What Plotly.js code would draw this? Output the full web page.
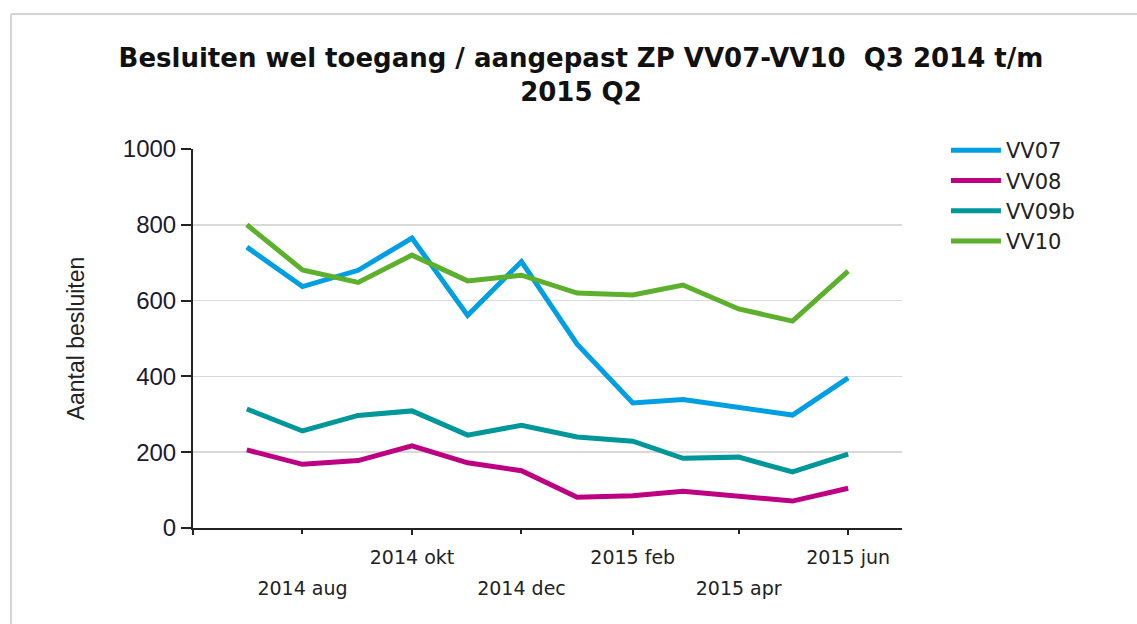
<!DOCTYPE html>
<html>
<head>
<meta charset="utf-8">
<script src="https://cdn.plot.ly/plotly-3.0.1.min.js"></script>
<style>html,body{margin:0;padding:0;background:#fff;}#chart{width:1137px;height:624px;}</style>
</head>
<body>
<div id="chart"></div>
<script>
var months = ['2014-07-01','2014-08-01','2014-09-01','2014-10-01','2014-11-01','2014-12-01',
              '2015-01-01','2015-02-01','2015-03-01','2015-04-01','2015-05-01','2015-06-01'];
var seriesNames = ['VV07','VV08','VV09b','VV10'];
var vv07  = [741, 637, 680, 765, 561, 703, 485, 330, 339, 317, 298, 396];
var vv08  = [206, 168, 178, 217, 172, 151, 81, 85, 97, 85, 71, 105];
var vv09b = [314, 256, 297, 309, 245, 271, 240, 229, 184, 187, 148, 195];
var vv10  = [800, 681, 648, 720, 652, 667, 620, 615, 641, 578, 546, 678];
var upperTickVals = ['2014-06-01','2014-10-01','2015-02-01','2015-06-01'];
var upperTickText = ['', '2014 okt', '2015 feb', '2015 jun'];
var lowerTickVals = ['2014-08-01','2014-12-01','2015-04-01'];
var lowerTickText = ['2014 aug', '2014 dec', '2015 apr'];
var yTickVals = [0, 200, 400, 600, 800, 1000];

var colors = ['#009fe3', '#be0082', '#00979b', '#5bb02c'];
var values = [vv07, vv08, vv09b, vv10];

var traces = seriesNames.map(function (n, i) {
  return {
    x: months, y: values[i], name: n, type: 'scatter', mode: 'lines',
    line: {color: colors[i], width: 5}, xaxis: 'x', yaxis: 'y'
  };
});
// invisible helper trace to activate lower-row tick axis
traces.push({x: months, y: vv07, xaxis: 'x2', yaxis: 'y', mode: 'lines',
  line: {width: 0, color: 'rgba(0,0,0,0)'}, showlegend: false, hoverinfo: 'skip'});

var xRange = ['2014-06-01', '2015-07-01'];
var tickFont = {family: 'DejaVu Sans', size: 19, color: '#222'};

var layout = {
  width: 1137, height: 624,
  paper_bgcolor: '#fff', plot_bgcolor: '#fff',
  margin: {l: 193, r: 235, t: 149, b: 96},
  title: {
    text: 'Besluiten wel toegang / aangepast ZP VV07-VV10\u00a0 Q3 2014 t/m<br>2015 Q2',
    font: {family: 'DejaVu Sans', size: 26, color: '#111', weight: 'bold'},
    xref: 'container', x: 0.511, xanchor: 'center',
    yref: 'container', y: 1 - 67 / 624, yanchor: 'top'
  },
  showlegend: true,
  legend: {
    x: 1.062, xanchor: 'left', y: 1.05, yanchor: 'top',
    font: {family: 'DejaVu Sans', size: 21, color: '#222'},
    itemwidth: 50, bgcolor: 'rgba(0,0,0,0)', tracegroupgap: 0
  },
  xaxis: {
    type: 'date', range: xRange,
    tickmode: 'array', tickvals: upperTickVals, ticktext: upperTickText,
    ticks: 'outside', ticklen: 5, tickwidth: 2, tickcolor: '#222',
    ticklabelstandoff: 6,
    showline: true, linecolor: '#222', linewidth: 2,
    showgrid: false, zeroline: false, tickfont: tickFont,
    fixedrange: true
  },
  xaxis2: {
    type: 'date', range: xRange, overlaying: 'x', side: 'bottom', anchor: 'y',
    tickmode: 'array', tickvals: lowerTickVals, ticktext: lowerTickText,
    ticks: 'outside', ticklen: 5, tickwidth: 2, tickcolor: '#222',
    ticklabelstandoff: 38,
    showline: false, showgrid: false, zeroline: false, tickfont: tickFont
  },
  yaxis: {
    range: [0, 1000], tickmode: 'array', tickvals: yTickVals,
    ticks: 'outside', ticklen: 10, tickwidth: 2, tickcolor: '#222',
    showline: true, linecolor: '#222', linewidth: 2,
    showgrid: true, gridcolor: '#d9d9d9', gridwidth: 1.5, zeroline: false,
    tickfont: {family: 'Liberation Sans', size: 24, color: '#1a1a2e'},
    title: {text: 'Aantal besluiten', font: {family: 'Liberation Sans', size: 23, color: '#222'}, standoff: 32}
  },
  shapes: [
    {type: 'line', xref: 'paper', yref: 'paper', x0: (11 - 193) / 709, x1: (1137 - 193) / 709,
     y0: (624 - 96 - 14) / 379, y1: (624 - 96 - 14) / 379, line: {color: '#d4d4d4', width: 2}},
    {type: 'line', xref: 'paper', yref: 'paper', x0: (11 - 193) / 709, x1: (11 - 193) / 709,
     y0: (624 - 96 - 14) / 379, y1: -96 / 379, line: {color: '#d4d4d4', width: 2}}
  ]
};

Plotly.newPlot('chart', traces, layout, {staticPlot: true, displayModeBar: false});
</script>
</body>
</html>
